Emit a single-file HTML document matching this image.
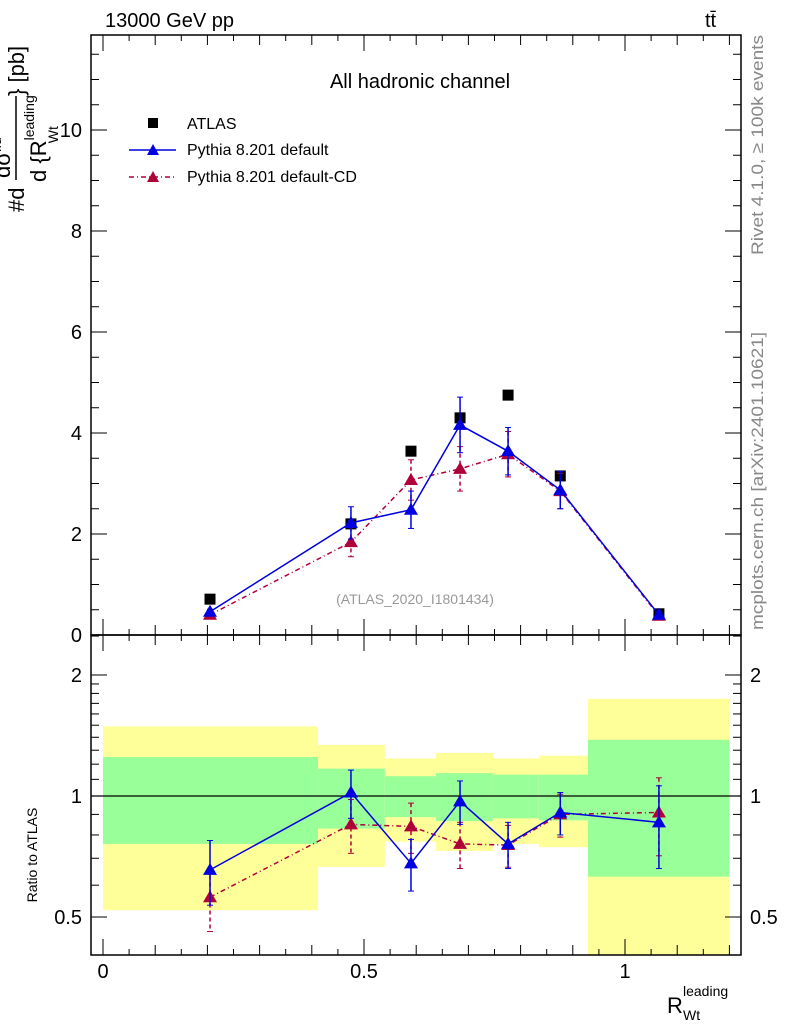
<!DOCTYPE html>
<html><head><meta charset="utf-8"><style>
body{margin:0;background:#fff;}
svg{display:block;font-family:"Liberation Sans",sans-serif;}
</style></head><body>
<svg id="c" width="786" height="1024" viewBox="0 0 786 1024">
<text x="105" y="27" font-size="20">13000 GeV pp</text>
<text x="705" y="27" font-size="20">tt̄</text>
<text x="420" y="88" font-size="20" text-anchor="middle">All hadronic channel</text>
<text x="415" y="604" font-size="14" fill="#999" text-anchor="middle">(ATLAS_2020_I1801434)</text>
<text transform="translate(763,255) rotate(-90)" font-size="17" fill="#888" textLength="220" lengthAdjust="spacingAndGlyphs">Rivet 4.1.0, ≥ 100k events</text>
<text transform="translate(763,630) rotate(-90)" font-size="17" fill="#888" textLength="298" lengthAdjust="spacingAndGlyphs">mcplots.cern.ch [arXiv:2401.10621]</text>
<g font-size="22">
 <text transform="translate(24,212) rotate(-90)">#d</text>
 <line x1="16" y1="180" x2="16" y2="96" stroke="#000" stroke-width="1.5"/>
 <text transform="translate(10,178) rotate(-90)">dσ<tspan font-size="14" dy="-9">fid</tspan></text>
 <text transform="translate(46,182) rotate(-90)">d {R<tspan font-size="14" dy="-12">leading</tspan><tspan font-size="14" dx="-48" dy="24">Wt</tspan></text>
 <text transform="translate(24,96) rotate(-90)">} [pb]</text>
</g>
<text transform="translate(37,855) rotate(-90)" font-size="14" text-anchor="middle">Ratio to ATLAS</text>
<g>
 <text x="667" y="1013" font-size="22">R</text>
 <text x="683" y="996" font-size="14">leading</text>
 <text x="683" y="1020" font-size="14">Wt</text>
</g>
<g id="legend">
 <rect x="148" y="118" width="10" height="10" fill="#000"/>
 <text x="187" y="129" font-size="16">ATLAS</text>
 <line x1="129" y1="150" x2="176" y2="150" stroke="#0000e0" stroke-width="1.5"/>
 <polygon points="153,144 147,155 159,155" fill="#0000e0"/>
 <text x="187" y="155" font-size="16">Pythia 8.201 default</text>
 <line x1="129" y1="177" x2="176" y2="177" stroke="#b0003a" stroke-width="1.5" stroke-dasharray="5,3,1,3"/>
 <polygon points="153,171 147,182 159,182" fill="#b0003a"/>
 <text x="187" y="182" font-size="16">Pythia 8.201 default-CD</text>
</g>
<g id="g"></g>
</svg>
<script>
const xVals=[0.205,0.475,0.590,0.684,0.776,0.876,1.065];
const binEdges=[0,0.412,0.540,0.638,0.747,0.835,0.929,1.2];
const atlas=[0.71,2.2,3.64,4.3,4.75,3.15,0.42];
const pDef=[0.46,2.22,2.48,4.16,3.64,2.87,0.40];
const pDefErr=[0.05,0.32,0.37,0.55,0.47,0.37,0.04];
const pCD=[0.40,1.84,3.07,3.29,3.58,2.85,0.38];
const pCDErr=[0.04,0.29,0.40,0.44,0.45,0.35,0.04];
const rDef=[0.655,1.02,0.68,0.97,0.76,0.91,0.86];
const rDefErr=[0.12,0.14,0.10,0.12,0.10,0.11,0.2];
const rCD=[0.56,0.85,0.84,0.76,0.755,0.9,0.91];
const rCDErr=[0.10,0.13,0.12,0.10,0.09,0.11,0.2];
const band1Hi=[1.25,1.17,1.12,1.14,1.13,1.13,1.38];
const band1Lo=[0.76,0.83,0.886,0.866,0.88,0.87,0.63];
const band2Hi=[1.49,1.34,1.24,1.28,1.24,1.26,1.745];
const band2Lo=[0.52,0.666,0.77,0.73,0.76,0.746,0.3];
const xTicks=[0,0.5,1];
const yTicks=[0,2,4,6,8,10];
const rTicks=[0.5,1,2];

const L=91,R=741,T=35,M=635,B=955;
const X=v=>103+v*522;
const Y=v=>635-v*50.5;
const RY=r=>Math.min(B,Math.max(M,796-121*Math.log2(r)));
const g=document.getElementById('g');
const NS='http://www.w3.org/2000/svg';
function mk(t,a,p){const e=document.createElementNS(NS,t);for(const k in a)e.setAttribute(k,a[k]);(p||g).appendChild(e);return e;}

binEdges.slice(0,-1).forEach((e,i)=>{
 const b=mk('rect',{x:X(e),y:RY(band2Hi[i]),width:X(binEdges[i+1])-X(e),height:RY(band2Lo[i])-RY(band2Hi[i]),fill:'#ffff99'});
 
 
 const c=mk('rect',{x:X(e),y:RY(band1Hi[i]),width:X(binEdges[i+1])-X(e),height:RY(band1Lo[i])-RY(band1Hi[i]),fill:'#99ff99'});
 
 
});
const one=mk('line',{x1:L,x2:R,y1:RY(1),y2:RY(1),stroke:'#000','stroke-width':1.2});



[[T,M],[M,B]].forEach(([a,b])=>{const f=mk('rect',{x:L,y:a,width:R-L,height:b-a,fill:'none',stroke:'#000','stroke-width':1.5});
 
 });

for(let i=0;i<=24;i++){const v=i*0.05,x=X(v),maj=i%10==0,len=maj?16:(i%2==0?10:6);
 [[M,-1],[T,1],[B,-1],[M,1]].forEach(([y0,d])=>mk('line',{x1:x,x2:x,y1:y0,y2:y0+d*len,stroke:'#000','stroke-width':1}));}
xTicks.forEach(v=>{const t=mk('text',{x:X(v),y:978,'font-size':20,'text-anchor':'middle'});t.textContent=v;
 
 });
for(let i=0;i<=23;i++){const v=i*0.5,y=Y(v),maj=i%4==0,len=maj?16:8;
 mk('line',{x1:L,x2:L+len,y1:y,y2:y,stroke:'#000'});mk('line',{x1:R,x2:R-len,y1:y,y2:y,stroke:'#000'});}
yTicks.forEach(v=>{const t=mk('text',{x:82,y:Y(v)+7,'font-size':20,'text-anchor':'end'});t.textContent=v;
 
 });
[0.4,0.5,0.6,0.7,0.8,0.9,1,1.1,1.2,1.3,1.4,1.5,1.6,1.7,1.8,1.9,2,2.5].forEach(v=>{const y=RY(v),maj=rTicks.includes(v),len=maj?16:8;
 if(y<=M||y>=B)return;
 mk('line',{x1:L,x2:L+len,y1:y,y2:y,stroke:'#000'});mk('line',{x1:R,x2:R-len,y1:y,y2:y,stroke:'#000'});});
rTicks.forEach(v=>{[[82,'end'],[750,'start']].forEach(([x,a])=>{const t=mk('text',{x:x,y:RY(v)+7,'font-size':20,'text-anchor':a});t.textContent=v;
 
 });});

function series(vals,errs,yf,col,dash,name){
 const pl=mk('polyline',{points:vals.map((v,i)=>X(xVals[i])+','+yf(v)).join(' '),fill:'none',stroke:col,'stroke-width':1.5,'stroke-dasharray':dash||''});
 
 
 vals.forEach((v,i)=>{const x=X(xVals[i]),y1=yf(v+errs[i]),y2=yf(Math.max(v-errs[i],0.01));
  mk('line',{x1:x,x2:x,y1:y1,y2:y2,stroke:col,'stroke-width':1.5,'stroke-dasharray':dash?'4,3':''});
  mk('line',{x1:x-3,x2:x+3,y1:y1,y2:y1,stroke:col});mk('line',{x1:x-3,x2:x+3,y1:y2,y2:y2,stroke:col});
  const y=yf(v);const p=mk('polygon',{points:`${x},${y-7} ${x-7},${y+5} ${x+7},${y+5}`,fill:col});
  
  });
}
atlas.forEach((v,i)=>{const r=mk('rect',{x:X(xVals[i])-5.5,y:Y(v)-5.5,width:11,height:11,fill:'#000'});
 
 });
series(pCD,pCDErr,Y,'#b0003a','5,3,1,3','cd');
series(pDef,pDefErr,Y,'#0000e0','','default');
series(rCD,rCDErr,RY,'#b0003a','5,3,1,3','ratio-cd');
series(rDef,rDefErr,RY,'#0000e0','','ratio-default');
</script>
</body></html>
